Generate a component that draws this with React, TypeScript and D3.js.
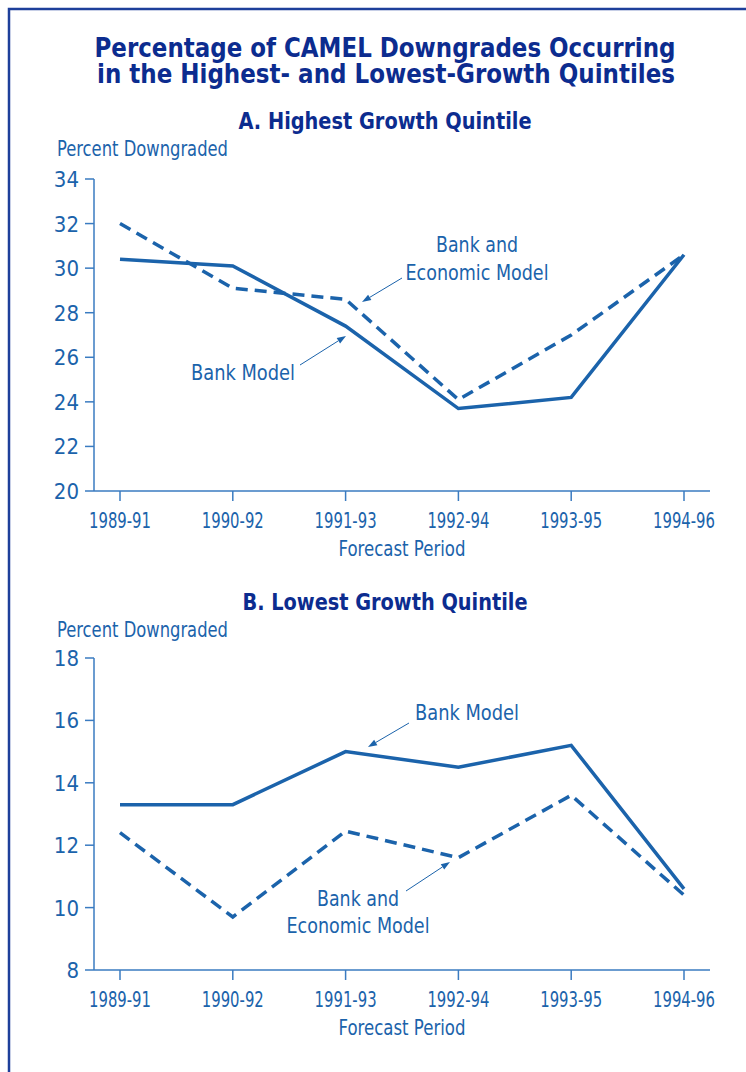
import React from "react";
import * as d3 from "d3";

const periods = ["1989-91", "1990-92", "1991-93", "1992-94", "1993-95", "1994-96"];
const highBank = [30.4, 30.1, 27.4, 23.7, 24.2, 30.6];
const highBankEcon = [32.0, 29.1, 28.6, 24.1, 27.0, 30.6];
const lowBank = [13.3, 13.3, 15.0, 14.5, 15.2, 10.6];
const lowBankEcon = [12.4, 9.7, 12.45, 11.6, 13.6, 10.4];
const highTicks = [20, 22, 24, 26, 28, 30, 32, 34];
const lowTicks = [8, 10, 12, 14, 16, 18];

const TITLE = "#0c2c8f";
const BLUE = "#1b63ab";
const AXIS = "#3a7bc1";
const FONT = "'Liberation Sans Narrow', 'DejaVu Sans Condensed', 'Roboto Condensed', 'Liberation Sans', sans-serif";

type PanelProps = {
  label: string;
  labelWidth: number;
  top: number;
  bottom: number;
  domain: [number, number];
  ticks: number[];
  bank: number[];
  bankEcon: number[];
  annotations: React.ReactNode;
  subtitleY: number;
};

const x = d3.scalePoint<string>().domain(periods).range([120, 684]);

function Panel(p: PanelProps) {
  const y = d3.scaleLinear().domain(p.domain).range([p.bottom, p.top]);
  const line = d3
    .line<number>()
    .x((_, i) => x(periods[i]) as number)
    .y((d) => y(d));
  return (
    <g>
      <text x={385} y={p.subtitleY} textAnchor="middle" fill={TITLE} fontSize={23} fontWeight="bold"
        textLength={p.labelWidth} lengthAdjust="spacingAndGlyphs">{p.label}</text>
      <text x={57} y={p.subtitleY + 27} fill={BLUE} fontSize={21.5} textLength={171} lengthAdjust="spacingAndGlyphs">
        Percent Downgraded
      </text>
      <line x1={94} x2={94} y1={p.top} y2={p.bottom} stroke={AXIS} strokeWidth={1.5} />
      <line x1={94} x2={710} y1={p.bottom} y2={p.bottom} stroke={AXIS} strokeWidth={1.5} />
      {p.ticks.map((t) => (
        <g key={t}>
          <line x1={85} x2={94} y1={y(t)} y2={y(t)} stroke={AXIS} strokeWidth={1.5} />
          <text x={79} y={y(t) + 8} textAnchor="end" fill={BLUE} fontSize={22}>{t}</text>
        </g>
      ))}
      {periods.map((per) => (
        <g key={per}>
          <line x1={x(per)} x2={x(per)} y1={p.bottom} y2={p.bottom + 10} stroke={AXIS} strokeWidth={1.5} />
          <text x={x(per)} y={p.bottom + 37} textAnchor="middle" fill={BLUE} fontSize={21.5}
            textLength={62} lengthAdjust="spacingAndGlyphs">{per}</text>
        </g>
      ))}
      <text x={402} y={p.bottom + 65} textAnchor="middle" fill={BLUE} fontSize={21}
        textLength={127} lengthAdjust="spacingAndGlyphs">Forecast Period</text>
      <path d={line(p.bankEcon) || ""} fill="none" stroke={BLUE} strokeWidth={3.5} strokeDasharray="12,7" />
      <path d={line(p.bank) || ""} fill="none" stroke={BLUE} strokeWidth={3.5} />
      {p.annotations}
    </g>
  );
}

function Arrow({ x1, y1, x2, y2 }: { x1: number; y1: number; x2: number; y2: number }) {
  const ang = Math.atan2(y2 - y1, x2 - x1);
  const L = 9, W = 3.2;
  const bx = x2 - L * Math.cos(ang), by = y2 - L * Math.sin(ang);
  const px = -Math.sin(ang) * W, py = Math.cos(ang) * W;
  return (
    <g>
      <line x1={x1} y1={y1} x2={bx} y2={by} stroke={BLUE} strokeWidth={1} />
      <path d={`M${x2},${y2}L${bx + px},${by + py}L${bx - px},${by - py}Z`} fill={BLUE} />
    </g>
  );
}

function Label({ x: lx, y: ly, text, width }: { x: number; y: number; text: string; width: number }) {
  return (
    <text x={lx} y={ly} textAnchor="middle" fill={BLUE} fontSize={22} textLength={width} lengthAdjust="spacingAndGlyphs">
      {text}
    </text>
  );
}

export default function App() {
  return (
    <svg width={746} height={1072} style={{ position: "absolute", left: 0, top: 0, fontFamily: FONT }}>
      <rect x={0} y={0} width={746} height={1072} fill="#fff" />
      <rect x={9} y={9} width={800} height={1200} fill="none" stroke="#1d3f9a" strokeWidth={2.5} />
      <text x={385} y={57} textAnchor="middle" fill={TITLE} fontSize={26} fontWeight="bold"
        textLength={581} lengthAdjust="spacingAndGlyphs">Percentage of CAMEL Downgrades Occurring</text>
      <text x={386} y={83} textAnchor="middle" fill={TITLE} fontSize={26} fontWeight="bold"
        textLength={578} lengthAdjust="spacingAndGlyphs">in the Highest- and Lowest-Growth Quintiles</text>
      <Panel
        label="A.  Highest Growth Quintile"
        labelWidth={293}
        subtitleY={129}
        top={179}
        bottom={491}
        domain={[20, 34]}
        ticks={highTicks}
        bank={highBank}
        bankEcon={highBankEcon}
        annotations={
          <g>
            <Label x={477} y={252} text="Bank and" width={82} />
            <Label x={477} y={280} text="Economic Model" width={143} />
            <Arrow x1={402} y1={278} x2={362} y2={302} />
            <Label x={243} y={380} text="Bank Model" width={104} />
            <Arrow x1={300} y1={365} x2={346} y2={336} />
          </g>
        }
      />
      <Panel
        label="B.  Lowest Growth Quintile"
        labelWidth={285}
        subtitleY={610}
        top={658}
        bottom={970}
        domain={[8, 18]}
        ticks={lowTicks}
        bank={lowBank}
        bankEcon={lowBankEcon}
        annotations={
          <g>
            <Label x={467} y={720} text="Bank Model" width={104} />
            <Arrow x1={409} y1={723} x2={368} y2={747} />
            <Label x={358} y={906} text="Bank and" width={82} />
            <Label x={358} y={933} text="Economic Model" width={143} />
            <Arrow x1={406} y1={891} x2={450} y2={862} />
          </g>
        }
      />
    </svg>
  );
}
